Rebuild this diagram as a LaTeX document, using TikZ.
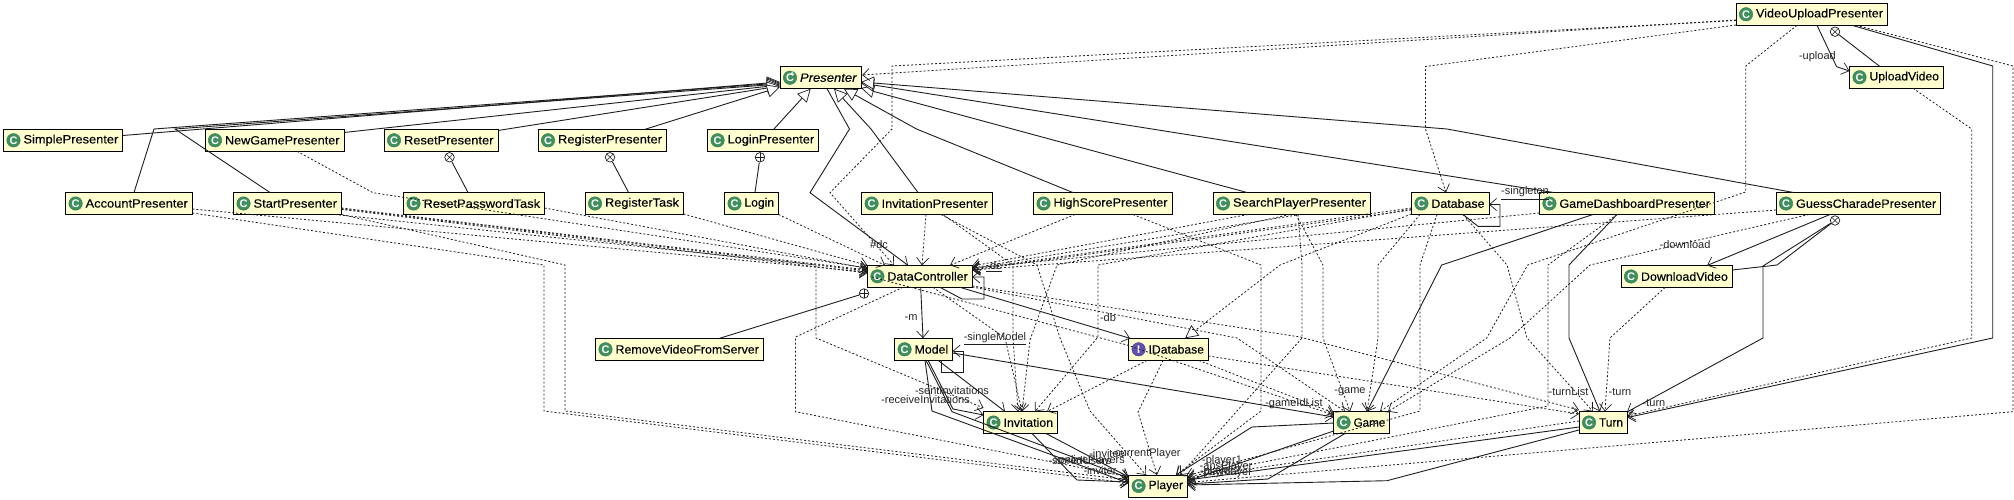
\documentclass[tikz,border=0pt]{standalone}
\usepackage{fontspec}
\usepackage{graphicx}
\setmainfont{Liberation Sans}
\newfontfamily\clsfont[FakeBold=0.15]{Liberation Sans}
\usetikzlibrary{arrows.meta,calc}
\definecolor{boxfill}{HTML}{FEFECE}
\definecolor{iconc}{HTML}{3F8F5F}
\definecolor{iconi}{HTML}{5F4FAF}
\definecolor{ln}{HTML}{1E1E1E}
\tikzset{
  classbox/.style={draw=black,line width=1pt,fill=boxfill,inner sep=0pt,minimum height=22pt,font=\fontsize{12pt}{14pt}\clsfont},
  iconnode/.style={circle,fill=#1,draw=#1!85!black,line width=.4pt,inner sep=0pt,minimum size=13.5pt,text=white,font=\fontsize{11pt}{11pt}\selectfont\bfseries},
  tinya/.style={inner sep=0pt,text=white,font=\fontsize{5pt}{5pt}\selectfont\bfseries},
  lab/.style={inner sep=0pt,text=black!85,font=\fontsize{11pt}{12pt}\selectfont},
  assoc/.style={draw=ln,line width=.9pt,-{Straight Barb[length=7pt,width=12pt,line width=.7pt]}},
  dep/.style={draw=ln,line width=.8pt,dash pattern=on 2pt off 2pt,-{Straight Barb[length=7pt,width=12pt,line width=.7pt]}},
  inh/.style={draw=ln,line width=.9pt,-{Triangle[open,length=13pt,width=13pt,fill=white,line width=.7pt]}},
  realiz/.style={draw=ln,line width=.8pt,dash pattern=on 2pt off 2pt,-{Triangle[open,length=13pt,width=13pt,fill=white,line width=.7pt]}},
  plainl/.style={draw=ln,line width=.9pt},
  nestx/.style={circle,draw=ln,line width=.7pt,fill=white,inner sep=0pt,minimum size=9.5pt,
    path picture={\draw[ln,line width=.6pt] (path picture bounding box.north west)--(path picture bounding box.south east) (path picture bounding box.north east)--(path picture bounding box.south west);}},
  nestp/.style={circle,draw=ln,line width=.7pt,fill=white,inner sep=0pt,minimum size=9.5pt,
    path picture={\draw[ln,line width=.6pt] (path picture bounding box.north)--(path picture bounding box.south) (path picture bounding box.east)--(path picture bounding box.west);}},
}
\newsavebox{\clsbox}
% name, x1, x2, ytop, icon colour, icon letter, text: the text is fitted to the box width
\newcommand{\cls}[7]{%
  \pgfmathsetmacro{\bw}{#3-#2}%
  \pgfmathsetmacro{\bx}{(#2+#3)/2}%
  \pgfmathsetmacro{\by}{#4+11}%
  \expandafter\xdef\csname cx@#1\endcsname{\bx}%
  \expandafter\xdef\csname cy@#1\endcsname{\by}%
  \node[classbox] (#1) at (\bx,\by) {\sbox{\clsbox}{#7}\pgfmathsetmacro{\fitx}{(\bw-24.5)/(\wd\clsbox/1pt)}\makebox[\bw pt][l]{\hspace{20pt}\scalebox{\fitx}[1]{#7}}};
  \node[iconnode=#5] (#1-icon) at ($(#1.west)+(10.5,0)$) {#6};
}
% end point on a named node, given in picture pixels
\newcommand{\ep}[3]{([shift={(#2-\csname cx@#1\endcsname,#3-\csname cy@#1\endcsname)}]#1.center)}
\begin{document}
\begin{tikzpicture}[x=1pt,y=-1pt]
\useasboundingbox (0,0) rectangle (2014,500);
\fill[white] (0,0) rectangle (2014,500);
% classes
\cls{Pr}{780}{861}{66.7}{iconc}{C}{\itshape Presenter}
\node[tinya] (Pr-a) at ($(Pr-icon)+(2.5,-3.5)$) {A};
\cls{VUP}{1736}{1887.5}{3.3}{iconc}{C}{VideoUploadPresenter}
\cls{UV}{1849.5}{1943.5}{66.3}{iconc}{C}{UploadVideo}
\cls{SP}{3.5}{122.8}{129.3}{iconc}{C}{SimplePresenter}
\cls{NG}{205}{344}{129.3}{iconc}{C}{NewGamePresenter}
\cls{RP}{384}{498}{129.3}{iconc}{C}{ResetPresenter}
\cls{RgP}{538}{666.5}{129.3}{iconc}{C}{RegisterPresenter}
\cls{LP}{707.6}{818.7}{129.3}{iconc}{C}{LoginPresenter}
\cls{AP}{65.6}{192.4}{192.5}{iconc}{C}{AccountPresenter}
\cls{StP}{233.5}{341.5}{192.5}{iconc}{C}{StartPresenter}
\cls{RT}{403.5}{544.6}{192.5}{iconc}{C}{ResetPasswordTask}
\cls{RgT}{585}{683.5}{192.5}{iconc}{C}{RegisterTask}
\cls{Lg}{724.5}{778.6}{192.5}{iconc}{C}{Login}
\cls{IP}{861.6}{992.4}{192.5}{iconc}{C}{InvitationPresenter}
\cls{HS}{1033.5}{1172}{192.5}{iconc}{C}{HighScorePresenter}
\cls{SE}{1213}{1370.5}{192.5}{iconc}{C}{SearchPlayerPresenter}
\cls{DB}{1411.4}{1489}{192.5}{iconc}{C}{Database}
\cls{GD}{1539.4}{1714.4}{192.5}{iconc}{C}{GameDashboardPresenter}
\cls{GC}{1776}{1940.7}{192.5}{iconc}{C}{GuessCharadePresenter}
\cls{DC}{867.4}{972.3}{265.3}{iconc}{C}{DataController}
\cls{DV}{1621}{1732.4}{265.5}{iconc}{C}{DownloadVideo}
\cls{RV}{595.5}{763.4}{338.3}{iconc}{C}{RemoveVideoFromServer}
\cls{M}{894.6}{952.7}{338.3}{iconc}{C}{Model}
\cls{ID}{1128.6}{1208.5}{338.3}{iconi}{I}{IDatabase}
\cls{Inv}{983.5}{1057.6}{411.5}{iconc}{C}{Invitation}
\cls{G}{1333.6}{1389.8}{411.5}{iconc}{C}{Game}
\cls{T}{1579}{1627.5}{411.5}{iconc}{C}{Turn}
\cls{Pl}{1128.6}{1187.5}{475}{iconc}{C}{Player}
% nesting markers
\node[nestx] (n1) at (449.5,157.3) {};
\node[nestx] (n2) at (610,157.3) {};
\node[nestp] (n3) at (760,157.3) {};
\node[nestp] (n4) at (864,293.5) {};
\node[nestx] (n5) at (1835,31.7) {};
\node[nestx] (n6) at (1835,220.5) {};
\draw[plainl] (n1) -- \ep{RT}{468}{192.5};
\draw[plainl] (n2) -- \ep{RgT}{628.6}{192.5};
\draw[plainl] (n3) -- \ep{Lg}{755}{192.5};
\draw[plainl] (n4) -- \ep{RV}{719.6}{338.3};
\draw[plainl] (n5) -- \ep{UV}{1879.6}{66.3};
\draw[plainl] (n6) -- (1777,265) -- \ep{DV}{1732.4}{270};
\draw[assoc] (n6) -- (1763,266) -- (1763,338) -- \ep{T}{1627}{412};
% inheritance
\draw[inh] \ep{SP}{122.8}{135.5} -- \ep{Pr}{780}{82};
\draw[inh] \ep{AP}{134}{192.5} -- (154,129) -- \ep{Pr}{780}{83};
\draw[inh] \ep{StP}{270}{192.5} -- (175,129) -- \ep{Pr}{780}{84};
\draw[inh] \ep{NG}{344}{132.5} -- \ep{Pr}{780}{85};
\draw[inh] \ep{RP}{498}{130.5} -- \ep{Pr}{780}{86};
\draw[inh] \ep{RgP}{645}{129.3} -- \ep{Pr}{780}{87};
\draw[inh] \ep{LP}{773.7}{129.3} -- \ep{Pr}{810.7}{88.7};
\draw[inh] \ep{IP}{918}{192.5} -- (871,129) -- \ep{Pr}{834}{88.7};
\draw[inh] \ep{HS}{1072.8}{192.5} -- (916.5,129) -- \ep{Pr}{843.8}{88.7};
\draw[inh] \ep{SE}{1247}{192.5} -- \ep{Pr}{861}{88};
\draw[inh] \ep{GD}{1553.6}{192.5} -- \ep{Pr}{861}{83};
\draw[inh] \ep{GC}{1793.5}{192.5} -- (1447,129) -- \ep{Pr}{861}{82};
\draw[realiz] \ep{DB}{1411.4}{214} -- (1280,265) -- \ep{ID}{1185}{338.3};
% associations
\draw[assoc] \ep{Pr}{827}{88.7} -- (849.5,129) -- (810,192.7) -- \ep{DC}{908}{265.3};
\draw[assoc] \ep{VUP}{1817}{25.3} -- (1836.6,66.7) -- \ep{UV}{1849.5}{71};
\draw[assoc] \ep{VUP}{1852}{25.3} -- (1992.7,66) -- (1992.7,338) -- \ep{T}{1627.5}{417.5};
\draw[assoc] \ep{GC}{1830}{214.5} -- \ep{DV}{1707}{265.5};
\draw[assoc] \ep{DC}{920.7}{287.3} -- \ep{M}{923}{338.3};
\draw[assoc] \ep{DC}{960}{287.3} -- \ep{ID}{1130}{338.3};
\draw[assoc] \ep{DC}{940}{287.3} -- (962,299) -- (984,299) -- (984,277) -- \ep{DC}{972.3}{277};
\draw[assoc] \ep{DB}{1463}{214.5} -- (1478,226.3) -- (1500,226.3) -- (1500,204.5) -- \ep{DB}{1489}{204.5};
\draw[assoc] \ep{M}{941}{360.3} -- (941,372) -- (963,372) -- (963,351) -- \ep{M}{952.7}{351};
\draw[assoc] \ep{M}{938}{360.3} -- \ep{Inv}{1005}{411.5};
\draw[assoc] \ep{M}{928}{360.3} -- (953,409) -- \ep{Inv}{983.5}{415};
\draw[assoc] \ep{M}{926}{360.3} -- (952,411.7) -- \ep{Pl}{1128.6}{478};
\draw[assoc] \ep{M}{925}{360.3} -- (932,411) -- \ep{Pl}{1128.6}{483};
\draw[assoc] \ep{M}{952.7}{353} -- \ep{G}{1333.6}{417};
\draw[assoc] \ep{Inv}{1032}{433.5} -- (1077,480) -- \ep{Pl}{1128.6}{482};
\draw[assoc] \ep{Inv}{1046}{433.5} -- \ep{Pl}{1128.6}{477};
\draw[assoc] \ep{G}{1334}{423} -- (1252,427) -- \ep{Pl}{1176}{475};
\draw[assoc] \ep{G}{1333.6}{431} -- \ep{Pl}{1187.5}{481};
\draw[assoc] \ep{G}{1345}{433.5} -- (1268,479) -- \ep{Pl}{1187.5}{484};
\draw[assoc] \ep{GD}{1593}{214.5} -- (1441.7,265) -- \ep{G}{1367}{411.5};
\draw[assoc] \ep{GD}{1617}{214.5} -- (1569,265) -- (1569,338) -- \ep{T}{1600}{411.5};
\draw[assoc] \ep{T}{1579}{427} -- \ep{Pl}{1187.5}{480};
\draw[assoc] \ep{T}{1579}{430} -- (1387,480.7) -- \ep{Pl}{1187.5}{485};
% dependencies: VideoUpload and UploadVideo
\draw[dep] \ep{VUP}{1736}{20} -- \ep{Pr}{862}{75};
\draw[dep] \ep{VUP}{1736}{20.5} -- (892,66) -- (892,129) -- (830,192.7) -- \ep{DC}{894}{265.3};
\draw[dep] \ep{VUP}{1736}{25} -- (1425.5,66.5) -- (1425.5,129) -- \ep{DB}{1446}{192.5};
\draw[dep] \ep{VUP}{1797}{25.3} -- (1745.7,66) -- (1745.7,192) -- (1527.7,265) -- (1486.7,338) -- \ep{G}{1380}{411.5};
\draw[dep] \ep{VUP}{1856}{25.3} -- (2013,66) -- (2013,411.7) -- \ep{Pl}{1187.5}{482.5};
\draw[dep] \ep{UV}{1913}{88.3} -- (1971.7,129) -- (1971.7,338) -- \ep{T}{1627.5}{416};
% dependencies: left presenters
\draw[dep] \ep{AP}{192.4}{209} -- \ep{DC}{867.4}{272};
\draw[dep] \ep{AP}{192.4}{213} -- (544,265) -- (544,411) -- \ep{Pl}{1128.6}{483};
\draw[dep] \ep{StP}{341.5}{208} -- \ep{DC}{867.4}{270};
\draw[dep] \ep{StP}{341.5}{208.7} -- \ep{DC}{867.4}{271};
\draw[dep] \ep{StP}{341.5}{209.4} -- \ep{DC}{867.4}{273};
\draw[dep] \ep{StP}{341.5}{214.5} -- (565,265) -- (565,411) -- \ep{Pl}{1128.6}{480};
\draw[dep] \ep{StP}{335}{214.5} -- (816,265) -- (816,338) -- \ep{Inv}{983.5}{408};
\draw[dep] \ep{NG}{297}{151.3} -- (373,192.7) -- \ep{DC}{867.4}{268};
\draw[dep] \ep{RT}{544.6}{208} -- \ep{DC}{867.4}{268.5};
\draw[dep] \ep{RgT}{683.5}{214} -- \ep{DC}{867.4}{265.5};
\draw[dep] \ep{Lg}{778.6}{214.5} -- \ep{DC}{885}{265.3};
% dependencies: middle presenters
\draw[dep] \ep{IP}{926}{214.5} -- \ep{DC}{922}{265.3};
\draw[dep] \ep{IP}{943}{214.5} -- (1013,265) -- (1013,338) -- \ep{Inv}{1018}{411.5};
\draw[dep] \ep{IP}{941}{214.5} -- (1037,265) -- (1060,338) -- (1090,411) -- \ep{Pl}{1146}{475};
\draw[dep] \ep{HS}{1075}{214.5} -- \ep{DC}{950}{265.3};
\draw[dep] \ep{HS}{1133}{214.5} -- (1261,265) -- (1261,411) -- \ep{Pl}{1176}{475};
\draw[dep] \ep{SE}{1248}{214.5} -- \ep{DC}{972.3}{266};
\draw[dep] \ep{SE}{1300}{214.5} -- \ep{DC}{972.3}{268};
\draw[dep] \ep{SE}{1296}{214.5} -- (1323,265) -- (1323,338) -- \ep{G}{1350}{411.5};
\draw[dep] \ep{SE}{1298}{214.5} -- (1302,265) -- (1302,338) -- \ep{Pl}{1180}{475};
\draw[dep] \ep{SE}{1290}{214.5} -- (1057,265) -- (1030,340) -- \ep{Inv}{1022}{411.5};
% dependencies: right presenters
\draw[dep] \ep{DB}{1411.4}{208} -- \ep{DC}{972.3}{269};
\draw[dep] \ep{DB}{1411.4}{210} -- \ep{DC}{972.3}{270};
\draw[dep] \ep{DB}{1411.4}{209} -- (1098,265) -- (1098,337) -- \ep{Inv}{1035}{411.5};
\draw[dep] \ep{DB}{1437}{214.5} -- (1420,265) -- (1420,411) -- \ep{Pl}{1186}{476};
\draw[dep] \ep{DB}{1420}{214.5} -- (1378,265) -- (1378,338) -- \ep{G}{1367}{411.5};
\draw[dep] \ep{DB}{1463}{214.5} -- (1507,265) -- (1527,338) -- \ep{T}{1593}{411.5};
\draw[dep] \ep{GD}{1539.4}{213} -- \ep{DC}{972.3}{268};
\draw[dep] \ep{GD}{1617}{214.5} -- (1548,265) -- (1548,406) -- \ep{Pl}{1187.5}{477};
\draw[dep] \ep{GC}{1776}{210} -- \ep{DC}{972.3}{270};
\draw[dep] \ep{GC}{1809}{214.5} -- (1590,265) -- (1510,338) -- \ep{G}{1388}{411.5};
\draw[dep] \ep{DV}{1665}{287.5} -- (1610,338) -- \ep{T}{1605}{411.5};
% dependencies: lower classes
\draw[dep] \ep{DC}{903}{287.3} -- (795.5,337) -- (795.5,411.7) -- \ep{Pl}{1128.6}{477};
\draw[dep] \ep{DC}{933}{287.3} -- (1005,338) -- \ep{Inv}{1022}{411.5};
\draw[dep] \ep{DC}{972.3}{286} -- (1300,337) -- \ep{T}{1579}{410};
\draw[dep] \ep{DC}{972.3}{287} -- (1237,338) -- \ep{G}{1345}{411.5};
\draw[dep] \ep{DC}{872}{277} -- (1127,345) -- \ep{G}{1333.6}{415};
\draw[dep] \ep{ID}{1147}{360.5} -- \ep{Inv}{1047}{411.5};
\draw[dep] \ep{ID}{1163}{360.5} -- (1138,412) -- \ep{Pl}{1157}{475};
\draw[dep] \ep{ID}{1199}{360.5} -- \ep{G}{1333.6}{413};
\draw[dep] \ep{ID}{1208.5}{356} -- \ep{T}{1579}{414};
\draw[dep] \ep{T}{1579}{421} -- \ep{Pl}{1187.5}{478};
% labels
\node[lab] (l1) at (879,245) {\#dc};
\node[lab] (l2) at (994,265.5) {-dc};
\draw[plainl] (l2.south west) ++(0,2) -- ($(l2.south east)+(0,2)$);
\node[lab] (l3) at (911,318) {-m};
\node[lab] (l4) at (1108,318) {-db};
\node[lab] (l5) at (995,338) {-singleModel};
\draw[plainl] (l5.south west) ++(0,1.5) -- ($(l5.south east)+(0,1.5)$);
\node[lab] (l6) at (1525,192) {-singleton};
\draw[plainl] (l6.south west) ++(0,2) -- ($(l6.south east)+(0,2)$);
\node[lab] (l7) at (1817.4,56.7) {-upload};
\node[lab] (l8) at (1685,245) {-download};
\node[lab] (l9) at (952,391) {-sentInvitations};
\node[lab] (l10) at (925.5,399.5) {-receiveInvitations};
\node[lab] (l11) at (1294,404) {-gameIdList};
\node[lab] (l12) at (1350,391.5) {-game};
\node[lab] (l13) at (1568.5,391.5) {-turnList};
\node[lab] (l14) at (1620,391.5) {-turn};
\node[lab] (l15) at (1654,402.5) {-turn};
\node[lab] (l16) at (1107,454) {-invitee};
\node[lab] (l17) at (1146,454) {-currentPlayer};
\node[lab] (l18) at (1100,470.7) {-inviter};
\node[lab] (l19) at (1080,460.5) {-storedUsers};
\node[lab] (l20) at (1090,460.5) {-onlinePlayers};
\node[lab] (l21) at (1222,460.5) {-player1};
\node[lab] (l22) at (1226,467) {-ansPlayer};
\node[lab] (l23) at (1220,472) {-player2};
\node[lab] (l24) at (1226,472.5) {-psyPlayer};
\end{tikzpicture}
\end{document}
